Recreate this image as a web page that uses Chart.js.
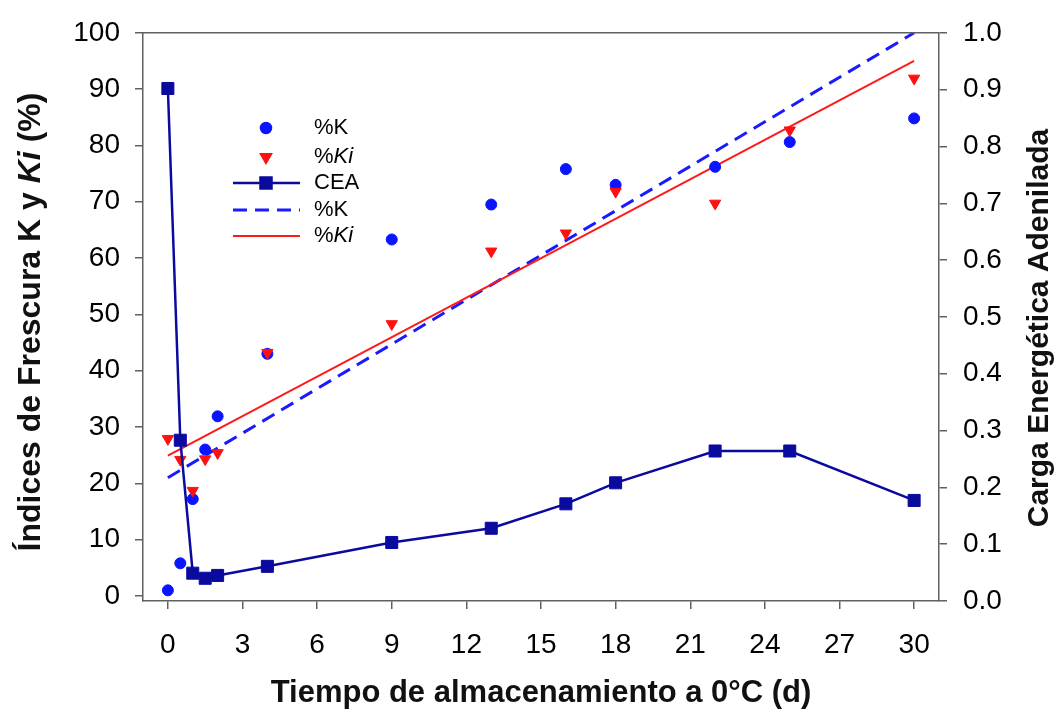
<!DOCTYPE html>
<html>
<head>
<meta charset="utf-8">
<script src="https://cdn.jsdelivr.net/npm/chart.js@4"></script>
<style>
  body { margin: 0; background: #fff; }
  #chart { display: block; }
</style>
</head>
<body>
<canvas id="chart" width="1063" height="713"></canvas>
<script>
// storage days
const days = [0, 0.5, 1, 1.5, 2, 4, 9, 13, 16, 18, 22, 25, 30];
const kValues = [1.0, 5.8, 17.2, 26.0, 31.9, 43.0, 63.3, 69.5, 75.8, 73.0, 76.2, 80.6, 84.8];
const kiValues = [27.9, 24.2, 18.7, 24.3, 25.4, 43.2, 48.3, 61.2, 64.4, 71.8, 69.7, 82.7, 91.9];
const ceaValues = [0.902, 0.283, 0.049, 0.040, 0.045, 0.061, 0.103, 0.128, 0.171, 0.208, 0.264, 0.264, 0.177];
// regression lines (endpoints)
const fitDays = [0, 30];
const kFit = [21.0, 100.0];
const kiFit = [24.9, 95.0];
// tick labels
const xTicks = [0, 3, 6, 9, 12, 15, 18, 21, 24, 27, 30];
const leftTicks = [0, 10, 20, 30, 40, 50, 60, 70, 80, 90, 100];
const rightTicks = [0, 0.1, 0.2, 0.3, 0.4, 0.5, 0.6, 0.7, 0.8, 0.9, 1.0];

const FONT = 'Arial, "Liberation Sans", sans-serif';
const AXIS_COLOR = '#606060';

const toPoints = (xs, ys) => xs.map((x, i) => ({ x: x, y: ys[i] }));

// legend entries: label parts [text, italic]
const legendItems = [
  { parts: [['%K', false]], ds: 0, kind: 'point' },
  { parts: [['%', false], ['Ki', true]], ds: 1, kind: 'point' },
  { parts: [['CEA', false]], ds: 2, kind: 'linepoint' },
  { parts: [['%K', false]], ds: 3, kind: 'line' },
  { parts: [['%', false], ['Ki', true]], ds: 4, kind: 'line' }
];

function drawParts(ctx, parts, x, y, size, bold) {
  let cx = x;
  parts.forEach(p => {
    ctx.font = (p[1] ? 'italic ' : '') + (bold ? 'bold ' : '') + size + 'px ' + FONT;
    ctx.fillText(p[0], cx, y);
    cx += ctx.measureText(p[0]).width;
  });
  return cx - x;
}
function measureParts(ctx, parts, size, bold) {
  let w = 0;
  parts.forEach(p => {
    ctx.font = (p[1] ? 'italic ' : '') + (bold ? 'bold ' : '') + size + 'px ' + FONT;
    w += ctx.measureText(p[0]).width;
  });
  return w;
}

const decorPlugin = {
  id: 'decor',
  afterDraw(chart) {
    const ctx = chart.ctx;
    const a = chart.chartArea;
    ctx.save();
    // top border of the frame
    ctx.strokeStyle = AXIS_COLOR;
    ctx.lineWidth = 1.5;
    ctx.beginPath();
    ctx.moveTo(a.left, a.top);
    ctx.lineTo(a.right, a.top);
    ctx.stroke();

    // legend
    ctx.fillStyle = '#000';
    ctx.textBaseline = 'middle';
    const rowY = [128, 157, 183, 210, 236];
    legendItems.forEach((item, i) => {
      const ds = chart.data.datasets[item.ds];
      const y = rowY[i];
      if (item.kind !== 'point') {
        ctx.save();
        ctx.strokeStyle = ds.borderColor;
        ctx.lineWidth = ds.borderWidth;
        ctx.setLineDash(ds.borderDash || []);
        ctx.beginPath();
        ctx.moveTo(233, y);
        ctx.lineTo(300, y);
        ctx.stroke();
        ctx.restore();
      }
      if (item.kind !== 'line') {
        ctx.save();
        ctx.fillStyle = ds.pointBackgroundColor;
        ctx.strokeStyle = ds.pointBorderColor;
        Chart.helpers.drawPoint(ctx, {
          pointStyle: ds.pointStyle,
          radius: ds.pointRadius,
          rotation: ds.pointRotation || 0,
          borderWidth: 1
        }, 266, y);
        ctx.restore();
      }
      ctx.fillStyle = '#000';
      ctx.textAlign = 'left';
      drawParts(ctx, item.parts, 314, y, 22, false);
    });

    // axis titles
    ctx.fillStyle = '#111';
    ctx.textBaseline = 'middle';
    ctx.textAlign = 'left';
    const leftParts = [['Índices de Frescura K y ', false], ['Ki', true], [' (%)', false]];
    ctx.save();
    ctx.translate(31, 322);
    ctx.rotate(-Math.PI / 2);
    const lw = measureParts(ctx, leftParts, 32, true);
    drawParts(ctx, leftParts, -lw / 2, 0, 32, true);
    ctx.restore();

    const rightParts = [['Carga Energética Adenilada', false]];
    ctx.save();
    ctx.translate(1040, 328);
    ctx.rotate(-Math.PI / 2);
    const rw = measureParts(ctx, rightParts, 30, true);
    drawParts(ctx, rightParts, -rw / 2, 0, 30, true);
    ctx.restore();

    const xParts = [['Tiempo de almacenamiento a 0°C (d)', false]];
    const xw = measureParts(ctx, xParts, 31, true);
    drawParts(ctx, xParts, 541 - xw / 2, 693, 31, true);
    ctx.restore();
  }
};

const tickFont = { family: FONT, size: 28 };
const gridOpts = { drawOnChartArea: false, drawTicks: true, tickLength: 8, color: AXIS_COLOR, lineWidth: 1.5 };

new Chart(document.getElementById('chart').getContext('2d'), {
  type: 'scatter',
  data: {
    datasets: [
      {
        label: '%K',
        data: toPoints(days, kValues),
        yAxisID: 'y',
        showLine: false,
        pointStyle: 'circle',
        pointRadius: 5.5,
        pointBackgroundColor: '#0a14ff',
        pointBorderColor: '#0a14ff',
        pointBorderWidth: 1,
        order: 2
      },
      {
        label: '%Ki',
        data: toPoints(days, kiValues),
        yAxisID: 'y',
        showLine: false,
        pointStyle: 'triangle',
        pointRotation: 180,
        pointRadius: 6.5,
        pointBackgroundColor: '#ff1010',
        pointBorderColor: '#ff1010',
        pointBorderWidth: 1,
        order: 1
      },
      {
        label: 'CEA',
        data: toPoints(days, ceaValues),
        yAxisID: 'y2',
        showLine: true,
        borderColor: '#0a0a9e',
        borderWidth: 2.5,
        pointStyle: 'rect',
        pointRadius: 8.5,
        pointBackgroundColor: '#0a0a9e',
        pointBorderColor: '#0a0a9e',
        pointBorderWidth: 1,
        order: 0
      },
      {
        label: '%K',
        data: toPoints(fitDays, kFit),
        yAxisID: 'y',
        showLine: true,
        borderColor: '#1a1aff',
        borderWidth: 3,
        borderDash: [14, 8],
        pointRadius: 0,
        order: 4
      },
      {
        label: '%Ki',
        data: toPoints(fitDays, kiFit),
        yAxisID: 'y',
        showLine: true,
        borderColor: '#ff1a1a',
        borderWidth: 2,
        pointRadius: 0,
        order: 3
      }
    ]
  },
  options: {
    responsive: false,
    animation: false,
    layout: { padding: { top: 29, left: 0, right: 0, bottom: 0 } },
    plugins: {
      legend: { display: false },
      tooltip: { enabled: false }
    },
    scales: {
      x: {
        type: 'linear',
        position: 'bottom',
        min: -1,
        max: 31,
        afterBuildTicks: s => { s.ticks = xTicks.map(v => ({ value: v })); },
        afterFit: s => { s.height = 112; },
        ticks: { font: tickFont, color: '#000', padding: 19, maxRotation: 0 },
        grid: gridOpts,
        border: { display: true, color: AXIS_COLOR, width: 1.5 }
      },
      y: {
        type: 'linear',
        position: 'left',
        min: -0.9,
        max: 100,
        afterBuildTicks: s => { s.ticks = leftTicks.map(v => ({ value: v })); },
        afterFit: s => { s.width = 143; },
        ticks: { font: tickFont, color: '#000', padding: 15 },
        grid: gridOpts,
        border: { display: true, color: AXIS_COLOR, width: 1.5 }
      },
      y2: {
        type: 'linear',
        position: 'right',
        min: 0,
        max: 1.0,
        afterBuildTicks: s => { s.ticks = rightTicks.map(v => ({ value: v })); },
        afterFit: s => { s.width = 124; },
        ticks: { font: tickFont, color: '#000', padding: 16, callback: v => v.toFixed(1) },
        grid: gridOpts,
        border: { display: true, color: AXIS_COLOR, width: 1.5 }
      }
    }
  },
  plugins: [decorPlugin]
});
</script>
</body>
</html>
